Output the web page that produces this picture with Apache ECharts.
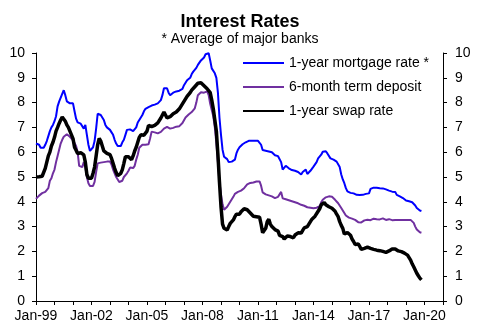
<!DOCTYPE html>
<html><head><meta charset="utf-8">
<script src="https://cdn.jsdelivr.net/npm/echarts@6/dist/echarts.min.js"></script>
<style>html,body{margin:0;padding:0;background:#fff}#c{width:480px;height:335px}</style>
</head><body><div id="c"></div>
<script>
// Monthly data starting Jan-1999
const tickLabels = ['Jan-99','Jan-02','Jan-05','Jan-08','Jan-11','Jan-14','Jan-17','Jan-20'];
const seriesNames = ['1-year mortgage rate *','6-month term deposit','1-year swap rate'];

const mortgage = [
6.35,6.35,6.3,6.18,6.15,6.18,6.3,6.45,6.65,6.85,7.0,7.1,
7.25,7.45,7.85,8.04,8.05,8.35,8.5,8.3,8.05,8.0,7.97,7.97,
7.97,7.65,7.35,7.2,7.15,7.15,7.15,6.95,7.1,6.7,6.3,6.05,
6.0,6.2,6.45,6.95,7.55,7.55,7.5,7.45,7.3,7.1,7.0,6.97,
6.9,6.8,6.7,6.5,6.35,6.25,6.22,6.25,6.4,6.5,6.7,6.9,
6.9,6.92,6.9,6.85,6.78,7.0,7.2,7.3,7.4,7.5,7.65,7.75,
7.78,7.82,7.84,7.88,7.9,7.92,7.95,7.97,8.0,8.1,8.3,8.58,
8.6,8.58,8.4,8.3,8.32,8.4,8.45,8.45,8.45,8.48,8.5,8.55,
8.7,8.8,8.9,8.95,9.0,9.15,9.25,9.2,9.4,9.52,9.58,9.7,
9.72,9.82,9.95,9.97,9.99,9.7,9.38,9.3,9.18,9.0,8.4,7.4,
6.7,6.1,5.82,5.8,5.72,5.6,5.6,5.62,5.6,5.7,5.95,6.1,
6.2,6.28,6.32,6.36,6.4,6.45,6.46,6.46,6.46,6.46,6.46,6.46,
6.46,6.45,6.3,6.09,6.08,6.06,6.05,6.03,6.02,6.0,5.92,5.88,
5.85,5.84,5.8,5.6,5.3,5.35,5.45,5.42,5.35,5.3,5.28,5.25,
5.25,5.22,5.2,5.15,5.1,5.2,5.15,5.3,5.12,5.15,5.25,5.3,
5.42,5.5,5.6,5.75,5.82,5.9,6.02,6.05,6.04,5.95,5.88,5.75,
5.72,5.7,5.69,5.62,5.55,5.4,5.1,4.9,4.75,4.55,4.42,4.38,
4.36,4.35,4.34,4.32,4.28,4.27,4.27,4.27,4.28,4.3,4.32,4.33,
4.34,4.52,4.55,4.57,4.58,4.57,4.56,4.55,4.54,4.54,4.52,4.5,
4.5,4.45,4.41,4.41,4.41,4.4,4.28,4.25,4.22,4.21,4.15,4.08,
4.05,4.03,4.02,4.0,3.98,3.92,3.85,3.75,3.67,3.65,3.63
];

const deposit = [
4.12,4.2,4.25,4.3,4.35,4.3,4.4,4.32,4.55,4.85,4.95,5.15,
5.3,5.6,5.85,6.1,6.35,6.5,6.62,6.7,6.72,6.7,6.62,6.55,
6.48,6.4,6.25,6.0,5.45,5.4,5.4,5.6,5.4,5.0,4.75,4.64,
4.64,4.64,4.8,5.2,5.55,5.57,5.58,5.58,5.6,5.62,5.62,5.62,
5.62,5.5,5.3,5.15,5.0,4.9,4.8,4.75,4.85,5.0,5.08,5.15,
5.25,5.38,5.4,5.36,5.45,5.7,5.9,6.18,6.25,6.3,6.3,6.3,
6.3,6.32,6.55,6.83,6.82,6.8,6.78,6.76,6.8,6.82,6.85,6.95,
7.03,7.02,6.96,6.95,6.94,6.98,7.02,7.03,7.02,7.05,7.1,7.18,
7.25,7.4,7.45,7.52,7.57,7.62,7.7,7.77,8.0,8.3,8.38,8.42,
8.45,8.4,8.35,8.45,8.3,7.95,7.7,7.45,7.0,6.35,5.6,4.8,
4.3,3.9,3.68,3.72,3.8,3.9,4.0,4.1,4.2,4.32,4.36,4.4,
4.43,4.45,4.5,4.55,4.62,4.7,4.72,4.76,4.75,4.78,4.8,4.82,
4.81,4.82,4.65,4.38,4.32,4.3,4.27,4.26,4.27,4.22,4.2,4.15,
4.14,4.2,4.3,4.4,4.14,4.12,4.1,4.07,4.06,4.04,4.02,4.0,
3.98,3.96,3.94,3.92,3.88,3.86,3.84,3.8,3.78,3.77,3.76,3.75,
3.74,3.75,3.76,3.78,3.82,3.98,4.08,4.14,4.18,4.21,4.22,4.21,
4.2,4.14,4.08,4.0,3.94,3.88,3.75,3.65,3.55,3.45,3.4,3.36,
3.34,3.32,3.3,3.27,3.22,3.18,3.17,3.17,3.19,3.25,3.29,3.28,
3.27,3.26,3.3,3.32,3.33,3.3,3.27,3.29,3.31,3.33,3.3,3.27,
3.32,3.3,3.25,3.26,3.27,3.27,3.27,3.27,3.27,3.27,3.27,3.27,
3.27,3.27,3.27,3.27,3.25,3.15,3.0,2.88,2.8,2.77,2.75
];

const swap = [
5.0,5.0,5.01,5.02,5.03,5.1,5.35,5.6,5.85,6.0,6.25,6.4,
6.6,6.85,7.0,7.16,7.3,7.42,7.35,7.25,7.1,7.0,6.85,6.7,
6.55,6.2,6.08,5.95,5.89,5.98,5.95,5.89,5.6,5.1,4.95,4.9,
4.95,5.15,5.4,5.85,6.3,6.56,6.45,6.25,6.05,5.98,5.95,5.93,
5.9,5.75,5.55,5.35,5.18,5.05,5.02,5.15,5.3,5.55,5.82,5.84,
5.82,5.75,5.7,5.85,6.05,6.2,6.4,6.6,6.7,6.76,6.68,6.62,
6.85,7.08,7.05,7.03,7.05,7.08,7.12,7.18,7.25,7.38,7.5,7.62,
7.5,7.38,7.4,7.43,7.5,7.55,7.6,7.62,7.65,7.75,7.85,7.95,
8.05,8.15,8.25,8.32,8.4,8.5,8.55,8.64,8.7,8.78,8.83,8.8,
8.73,8.68,8.62,8.56,8.5,8.4,8.1,7.75,7.3,6.85,5.9,4.8,
3.8,3.1,2.93,2.88,2.86,3.0,3.13,3.2,3.27,3.4,3.5,3.54,
3.5,3.6,3.65,3.72,3.74,3.68,3.7,3.55,3.5,3.42,3.45,3.4,
3.42,3.38,3.1,2.75,2.8,2.93,3.2,3.3,3.1,3.0,2.95,2.88,
2.85,2.82,2.65,2.58,2.6,2.5,2.42,2.62,2.6,2.6,2.62,2.55,
2.66,2.7,2.75,2.78,2.74,2.85,2.95,2.9,3.0,3.1,3.2,3.3,
3.35,3.42,3.5,3.62,3.72,3.88,3.95,3.97,3.88,3.85,3.8,3.78,
3.74,3.68,3.62,3.5,3.4,3.2,3.05,2.93,2.7,2.72,2.76,2.75,
2.65,2.5,2.4,2.28,2.22,2.3,2.2,2.08,2.06,2.12,2.18,2.17,
2.16,2.12,2.07,2.08,2.07,2.05,2.04,2.03,2.02,2.0,1.98,1.96,
1.97,2.02,2.06,2.1,2.12,2.1,2.06,2.02,1.99,1.99,1.97,1.93,
1.92,1.85,1.75,1.65,1.5,1.38,1.25,1.12,1.02,0.92,0.85
];

const toPoints = arr => arr.map((v, i) => [i, v]);
const FONT = 'Liberation Sans, Arial, sans-serif';

const chart = echarts.init(document.getElementById('c'));
const yAxisBase = {
  type: 'value', min: 0, max: 10, interval: 1,
  axisLine: { show: true, lineStyle: { color: '#000', width: 1 } },
  axisTick: { show: true, inside: false, length: 4, lineStyle: { color: '#000' } },
  splitLine: { show: false },
  axisLabel: { color: '#000', fontSize: 14, fontFamily: FONT, margin: 11 }
};
chart.setOption({
  animation: false,
  backgroundColor: '#fff',
  title: {
    text: 'Interest Rates',
    subtext: '* Average of major banks',
    left: 'center', top: 8, itemGap: 1,
    textStyle: { fontSize: 18, fontWeight: 'bold', color: '#000', fontFamily: FONT },
    subtextStyle: { fontSize: 14, color: '#000', fontFamily: FONT }
  },
  legend: {
    orient: 'vertical', left: 242, top: 56, padding: 0,
    itemWidth: 41, itemHeight: 14, itemGap: 10,
    itemStyle: { opacity: 0 },
    textStyle: { fontSize: 14, color: '#000', fontFamily: FONT },
    data: seriesNames
  },
  grid: { left: 36, right: 37, top: 53, bottom: 34, containLabel: false },
  xAxis: {
    type: 'value', min: 0, max: 264, interval: 12,
    axisLine: { show: true, onZero: false, lineStyle: { color: '#000', width: 1 } },
    axisTick: { show: true, length: 4, lineStyle: { color: '#000' } },
    splitLine: { show: false },
    axisLabel: {
      color: '#000', fontSize: 14, fontFamily: FONT, margin: 8,
      formatter: v => (v % 36 === 0 && tickLabels[v / 36]) ? tickLabels[v / 36] : ''
    }
  },
  yAxis: [
    Object.assign({ position: 'left' }, yAxisBase),
    Object.assign({ position: 'right' }, yAxisBase, { axisLabel: Object.assign({}, yAxisBase.axisLabel, { margin: 12 }) })
  ],
  series: [
    { name: seriesNames[0], type: 'line', data: toPoints(mortgage), symbol: 'none', showSymbol: false,
      lineStyle: { color: '#0000FF', width: 2 }, itemStyle: { color: '#0000FF' }, z: 2 },
    { name: seriesNames[1], type: 'line', data: toPoints(deposit), symbol: 'none', showSymbol: false,
      lineStyle: { color: '#7030A0', width: 2 }, itemStyle: { color: '#7030A0' }, z: 3 },
    { name: seriesNames[2], type: 'line', data: toPoints(swap), symbol: 'none', showSymbol: false,
      lineStyle: { color: '#000000', width: 3.5 }, itemStyle: { color: '#000000' }, z: 4 }
  ]
});
</script>
</body></html>
